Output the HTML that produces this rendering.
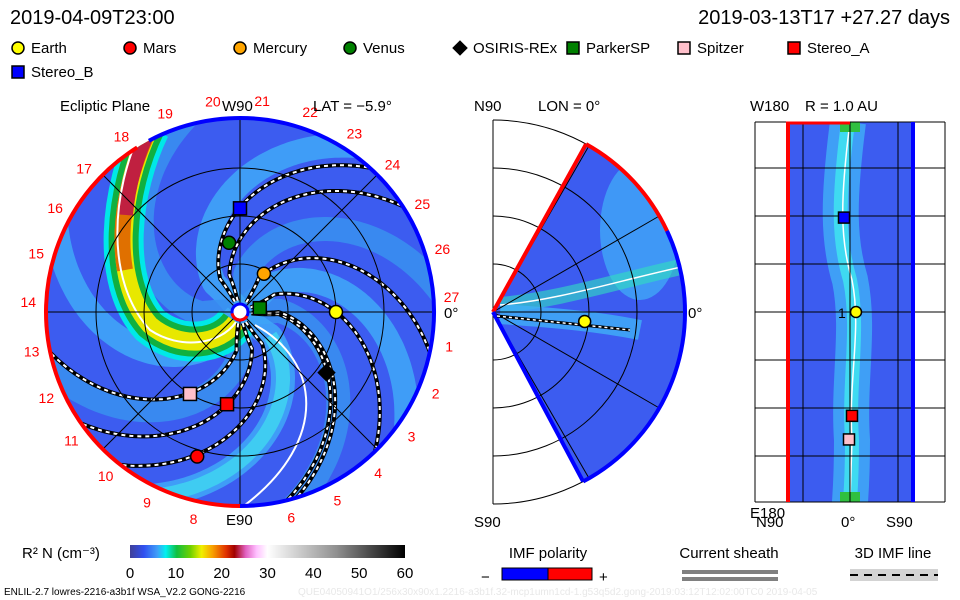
<!DOCTYPE html>
<html><head><meta charset="utf-8"><style>
html,body{margin:0;padding:0;background:#fff;width:960px;height:600px;overflow:hidden}
svg text{font-family:"Liberation Sans",sans-serif}
</style></head><body>
<svg id="s" width="960" height="600" viewBox="0 0 960 600" xmlns="http://www.w3.org/2000/svg">
<defs>
<linearGradient id="cb" x1="0" x2="1" y1="0" y2="0">
<stop offset="0" stop-color="#404098"/><stop offset="0.05" stop-color="#3050f0"/><stop offset="0.1" stop-color="#40a0f8"/><stop offset="0.13" stop-color="#00f0f0"/><stop offset="0.17" stop-color="#10c040"/><stop offset="0.22" stop-color="#70d000"/><stop offset="0.26" stop-color="#f0f000"/><stop offset="0.3" stop-color="#f8a000"/><stop offset="0.35" stop-color="#e03000"/><stop offset="0.38" stop-color="#a00000"/><stop offset="0.42" stop-color="#e060c0"/><stop offset="0.46" stop-color="#ffc0ff"/><stop offset="0.5" stop-color="#ffffff"/><stop offset="0.75" stop-color="#909090"/><stop offset="1" stop-color="#000000"/>
</linearGradient>
<clipPath id="disc"><circle cx="240" cy="312" r="194"/></clipPath>
<clipPath id="wedge"><path id="wp"/></clipPath>
<clipPath id="rect"><rect x="786" y="122" width="129" height="380"/></clipPath>
</defs>
<text x="10" y="24" font-size="20">2019-04-09T23:00</text>
<text x="950" y="24" font-size="20" text-anchor="end">2019-03-13T17 +27.27 days</text>
<g id="legend"></g>
<g id="eclip"></g>
<g id="merid"></g>
<g id="rpan"></g>
<g id="bottom"></g>
</svg>
<script>
const NS="http://www.w3.org/2000/svg";
const bodyNames=["Earth","Mars","Mercury","Venus","OSIRIS-REx","ParkerSP","Spitzer","Stereo_A","Stereo_B"];
const bodyColors=["#ffff00","#ff0000","#ffa500","#008000","#000000","#008000","#ffc0cb","#ff0000","#0000ff"];
const bodyShapes=["circle","circle","circle","circle","diamond","square","square","square","square"];
const bodyLon=[0,253.5,58,99,-35,11,238.6,262,90];
const bodyR=[1.0,1.57,0.47,0.73,1.1,0.21,1.0,0.97,1.08];
const spiralPhi0=[139,124,79,45,15,18,283,306,323];
const bandPhi0=[20,60,100,150,200,250,290,340];
const cbTicks=[0,10,20,30,40,50,60];
const ringLabels=[1,2,3,4,5,6,7,8,9,10,11,12,13,14,15,16,17,18,19,20,21,22,23,24,25,26,27];
const meridLat=[0];const meridR=[0.96];
const rpanBodies=[8,0,7,6];const rpanLat=[-0.6,0.6,0.2,-0.1];const rpanLon=[40,0,-44,-54];

function el(p,tag,a,txt){const e=document.createElementNS(NS,tag);for(const k in a)e.setAttribute(k,a[k]);if(txt!==undefined)e.textContent=txt;p.appendChild(e);return e;}
const CX=240,CY=312,AU=96;
function px(r,deg){return CX+r*AU*Math.cos(deg*Math.PI/180);}
function py(r,deg){return CY-r*AU*Math.sin(deg*Math.PI/180);}
function marker(g,shape,x,y,c,s){
  if(shape==="circle")return el(g,"circle",{cx:x,cy:y,r:s/2,fill:c,stroke:"#000","stroke-width":1.5});
  if(shape==="square")return el(g,"rect",{x:x-s/2,y:y-s/2,width:s,height:s,fill:c,stroke:"#000","stroke-width":1.5});
  return el(g,"rect",{x:x-s/2,y:y-s/2,width:s,height:s,fill:c,transform:`rotate(45 ${x} ${y})`});
}
function arcPts(cx,cy,r,a0,a1){const x1=cx+r*Math.cos(a1*Math.PI/180),y1=cy-r*Math.sin(a1*Math.PI/180);const sweep=a1<a0?1:0;return `A${r},${r} 0 ${Math.abs(a1-a0)>180?1:0} ${sweep} ${x1},${y1}`;}
function arc(cx,cy,r,a0,a1){const x0=cx+r*Math.cos(a0*Math.PI/180),y0=cy-r*Math.sin(a0*Math.PI/180);return `M${x0},${y0}`+arcPts(cx,cy,r,a0,a1);}
// legend
const lg=document.getElementById("legend");
const lgX=[18,130,240,350,460,573,684,794,18],lgY=[48,48,48,48,48,48,48,48,72];
bodyNames.forEach((n,i)=>{
  const g=el(lg,"g",{});
  
  
  marker(g,bodyShapes[i],lgX[i],lgY[i],bodyColors[i],bodyShapes[i]==="diamond"?11:12);
  el(g,"text",{x:lgX[i]+13,y:lgY[i]+5,"font-size":15},n);
});
// ecliptic panel
const E=document.getElementById("eclip");
el(E,"circle",{cx:CX,cy:CY,r:194,fill:"#3c5cf0"});
const D=el(E,"g",{"clip-path":"url(#disc)"});
function spiral(phi0,r0,r1){let d="";for(let r=r0;r<=r1+1e-6;r+=0.02){const a=phi0-45*r-(r<0.4?(0.4-r)*60:0);d+=(d?"L":"M")+px(r,a).toFixed(1)+","+py(r,a).toFixed(1);}return d;}
bandPhi0.forEach((p,i)=>{
  const b=el(D,"path",{d:spiral(p,0.05,2.2),fill:"none",stroke:i%2?"#40a8f8":"#3890f0","stroke-width":24,opacity:0.85});
  
});
el(D,"path",{d:spiral(-20,0.4,2.2),fill:"none",stroke:"#40e0f0","stroke-width":14,opacity:0.7});
// CME
const cme="M150,128 C120,190 110,280 150,325 C180,350 220,345 236,322";
el(D,"path",{d:cme,fill:"none",stroke:"#00e8e8","stroke-width":40});
el(D,"path",{d:cme,fill:"none",stroke:"#10b040","stroke-width":30});
el(D,"path",{d:cme,fill:"none",stroke:"#e8e800","stroke-width":18});
el(D,"path",{d:"M150,128 C125,180 118,230 125,270",fill:"none",stroke:"#e07000","stroke-width":16});
el(D,"path",{d:"M150,128 C135,160 128,190 126,215",fill:"none",stroke:"#c02040","stroke-width":14});
el(D,"path",{d:"M141,130 C112,190 104,280 150,330 C180,350 220,345 236,322",fill:"none",stroke:"#fff","stroke-width":2});
el(D,"path",{d:"M255,325 C320,360 330,440 245,505",fill:"none",stroke:"#fff","stroke-width":2});
// grid
[0.5,1,1.5].forEach(r=>el(E,"circle",{cx:CX,cy:CY,r:r*AU,fill:"none",stroke:"#000","stroke-width":1}));
[0,45,90,135].forEach(a=>el(E,"line",{x1:px(-2.02,a),y1:py(-2.02,a),x2:px(2.02,a),y2:py(2.02,a),stroke:"#000","stroke-width":1}));
// IMF lines
spiralPhi0.forEach(p=>{
  const l=el(D,"path",{d:spiral(p,0.12,2.1),fill:"none",stroke:"#000","stroke-width":4});
  
  el(D,"path",{d:spiral(p,0.12,2.1),fill:"none",stroke:"#fff","stroke-width":2,"stroke-dasharray":"4 4"});
});
// boundary ring
el(E,"path",{d:arc(CX,CY,194,-90,118),fill:"none",stroke:"#0000ff","stroke-width":4,});
el(E,"path",{d:arc(CX,CY,194,122,270),fill:"none",stroke:"#ff0000","stroke-width":4,});
el(E,"circle",{cx:CX,cy:CY,r:8,fill:"#fff",stroke:"#0000ff","stroke-width":3});
el(E,"path",{d:arc(CX,CY,8,190,330),fill:"none",stroke:"#ff0000","stroke-width":3});
ringLabels.forEach(k=>{
  if(k===7)return;
  const a=4-13.333*(k%27);
  el(E,"text",{x:CX+212*Math.cos(a*Math.PI/180),y:CY-212*Math.sin(a*Math.PI/180)+5,"font-size":14,fill:"#ff0000","text-anchor":"middle"},k);
});
bodyNames.forEach((n,i)=>{
  const m=marker(E,bodyShapes[i],px(bodyR[i],bodyLon[i]),py(bodyR[i],bodyLon[i]),bodyColors[i],13);
  
});
el(E,"text",{x:60,y:111,"font-size":15},"Ecliptic Plane");
el(E,"text",{x:222,y:111,"font-size":15},"W90");
el(E,"text",{x:313,y:111,"font-size":15},"LAT = \u22125.9\u00b0");
el(E,"text",{x:226,y:525,"font-size":15},"E90");
el(E,"text",{x:444,y:318,"font-size":15},"0\u00b0");
// meridional panel
const M=document.getElementById("merid");const MX=493,MY=312,MR=192;
function mp(r,a){return [MX+r*Math.cos(a*Math.PI/180),MY-r*Math.sin(a*Math.PI/180)];}
const wd=`M${MX},${MY}L${mp(MR,61)}`+arcPts(MX,MY,MR,61,-62)+"Z";
document.getElementById("wp").setAttribute("d",wd);
el(M,"path",{d:wd,fill:"#3c5cf0"});
const MW=el(M,"g",{"clip-path":"url(#wedge)"});
el(MW,"ellipse",{cx:640,cy:230,rx:40,ry:70,fill:"#40a8f8",opacity:0.8});
el(MW,"path",{d:"M500,305 C560,300 620,280 690,265",fill:"none",stroke:"#30e0c0","stroke-width":16,opacity:0.6});
el(MW,"path",{d:"M500,314 C560,318 600,322 640,330",fill:"none",stroke:"#40b0f8","stroke-width":20,opacity:0.8});
el(MW,"path",{d:"M500,305 C560,300 620,280 690,265",fill:"none",stroke:"#fff","stroke-width":1.5});
[48,96,144,192].forEach(r=>el(M,"path",{d:arc(MX,MY,r,90,-90),fill:"none",stroke:"#000","stroke-width":1}));
[60,30,0,-30,-60].forEach(a=>{const p=mp(MR,a);el(M,"line",{x1:MX,y1:MY,x2:p[0],y2:p[1],stroke:"#000","stroke-width":1});});
el(M,"line",{x1:MX,y1:MY-MR,x2:MX,y2:MY+MR,stroke:"#000","stroke-width":1});
el(M,"line",{x1:MX,y1:MY,x2:mp(MR,61)[0],y2:mp(MR,61)[1],stroke:"#ff0000","stroke-width":4});
el(M,"path",{d:arc(MX,MY,MR,61,25),fill:"none",stroke:"#ff0000","stroke-width":4});
el(M,"path",{d:arc(MX,MY,MR,25,-62),fill:"none",stroke:"#0000ff","stroke-width":4});
el(M,"line",{x1:MX,y1:MY,x2:mp(MR,-62)[0],y2:mp(MR,-62)[1],stroke:"#0000ff","stroke-width":4});
el(M,"path",{d:"M497,316 L630,330",fill:"none",stroke:"#000","stroke-width":3});
el(M,"path",{d:"M497,316 L630,330",fill:"none",stroke:"#fff","stroke-width":1.5,"stroke-dasharray":"3 3"});
meridLat.forEach((la,i)=>{const p=mp(meridR[i]*AU,la-5.9);const m=marker(M,"circle",p[0],p[1],"#ffff00",12);});
el(M,"text",{x:474,y:111,"font-size":15},"N90");
el(M,"text",{x:538,y:111,"font-size":15},"LON = 0\u00b0");
el(M,"text",{x:474,y:527,"font-size":15},"S90");
el(M,"text",{x:688,y:318,"font-size":15},"0\u00b0");
// right panel
const R=document.getElementById("rpan");
el(R,"rect",{x:786,y:122,width:129,height:380,fill:"#3c5cf0"});
const RG=el(R,"g",{"clip-path":"url(#rect)"});
el(RG,"path",{d:"M848,122 C838,200 838,240 850,280 C860,330 848,380 852,440 C852,480 850,500 850,502",fill:"none",stroke:"#40b0f8","stroke-width":36,opacity:0.8});
el(RG,"path",{d:"M848,122 C838,200 838,240 850,280 C860,330 848,380 852,440 C852,480 850,500 850,502",fill:"none",stroke:"#40e8f0","stroke-width":14,opacity:0.8});
el(RG,"path",{d:"M850,122 C840,200 840,240 852,280 C862,330 848,380 852,440 L850,502",fill:"none",stroke:"#fff","stroke-width":1.5});
el(RG,"rect",{x:840,y:122,width:20,height:10,fill:"#30c040"});
el(RG,"rect",{x:840,y:492,width:20,height:10,fill:"#30c040"});
for(let y=168;y<502;y+=48)el(R,"line",{x1:755,y1:y,x2:945,y2:y,stroke:"#000","stroke-width":1});
el(R,"line",{x1:755,y1:122,x2:945,y2:122,stroke:"#000"});
[755,803,850,898,945].forEach(x=>el(R,"line",{x1:x,y1:122,x2:x,y2:502,stroke:"#000","stroke-width":1}));
el(R,"line",{x1:755,y1:502,x2:945,y2:502,stroke:"#000"});
el(R,"line",{x1:788,y1:122,x2:788,y2:502,stroke:"#ff0000","stroke-width":4});
el(R,"line",{x1:786,y1:123,x2:850,y2:123,stroke:"#ff0000","stroke-width":3});
el(R,"line",{x1:913,y1:122,x2:913,y2:502,stroke:"#0000ff","stroke-width":4});
rpanBodies.forEach((b,i)=>{const x=850+rpanLat[i]*10,y=312-rpanLon[i]*2.36;const m=marker(R,bodyShapes[b],x,y,bodyColors[b],11);});
el(R,"text",{x:750,y:111,"font-size":15},"W180");
el(R,"text",{x:805,y:111,"font-size":15},"R = 1.0 AU");
el(R,"text",{x:838,y:318,"font-size":14},"1");
el(R,"text",{x:750,y:518,"font-size":15},"E180");
el(R,"text",{x:756,y:527,"font-size":15},"N90");
el(R,"text",{x:841,y:527,"font-size":15},"0\u00b0");
el(R,"text",{x:886,y:527,"font-size":15},"S90");
// bottom
const B=document.getElementById("bottom");
el(B,"text",{x:22,y:558,"font-size":15},"R\u00b2 N (cm\u207b\u00b3)");
const cb=el(B,"rect",{x:130,y:545,width:275,height:13,fill:"url(#cb)"});

cbTicks.forEach(t=>el(B,"text",{x:130+t/60*275,y:578,"font-size":15,"text-anchor":"middle"},t));
el(B,"text",{x:548,y:558,"font-size":15,"text-anchor":"middle"},"IMF polarity");
el(B,"text",{x:481,y:582,"font-size":15},"\u2212");
el(B,"rect",{x:502,y:568,width:46,height:12,fill:"#0000ff",stroke:"#000"});
el(B,"rect",{x:548,y:568,width:44,height:12,fill:"#ff0000",stroke:"#000"});
el(B,"text",{x:599,y:582,"font-size":15},"+");
el(B,"text",{x:729,y:558,"font-size":15,"text-anchor":"middle"},"Current sheath");
el(B,"rect",{x:682,y:570,width:96,height:4,fill:"#808080"});
el(B,"rect",{x:682,y:577,width:96,height:4,fill:"#808080"});
el(B,"text",{x:893,y:558,"font-size":15,"text-anchor":"middle"},"3D IMF line");
el(B,"rect",{x:850,y:569,width:88,height:12,fill:"#d3d3d3"});
el(B,"line",{x1:850,y1:575,x2:938,y2:575,stroke:"#000","stroke-width":2,"stroke-dasharray":"8 6"});
el(B,"text",{x:4,y:595,"font-size":10},"ENLIL-2.7 lowres-2216-a3b1f WSA_V2.2 GONG-2216");
el(B,"text",{x:298,y:595,"font-size":10,fill:"#e8e8e8"},"QUE04050941O1/256x30x90x1.2216-a3b1f.32-mcp1umn1cd-1.g53q5d2.gong-2019:03:12T12:02:00TC0   2019-04-05");
</script>
</body></html>
